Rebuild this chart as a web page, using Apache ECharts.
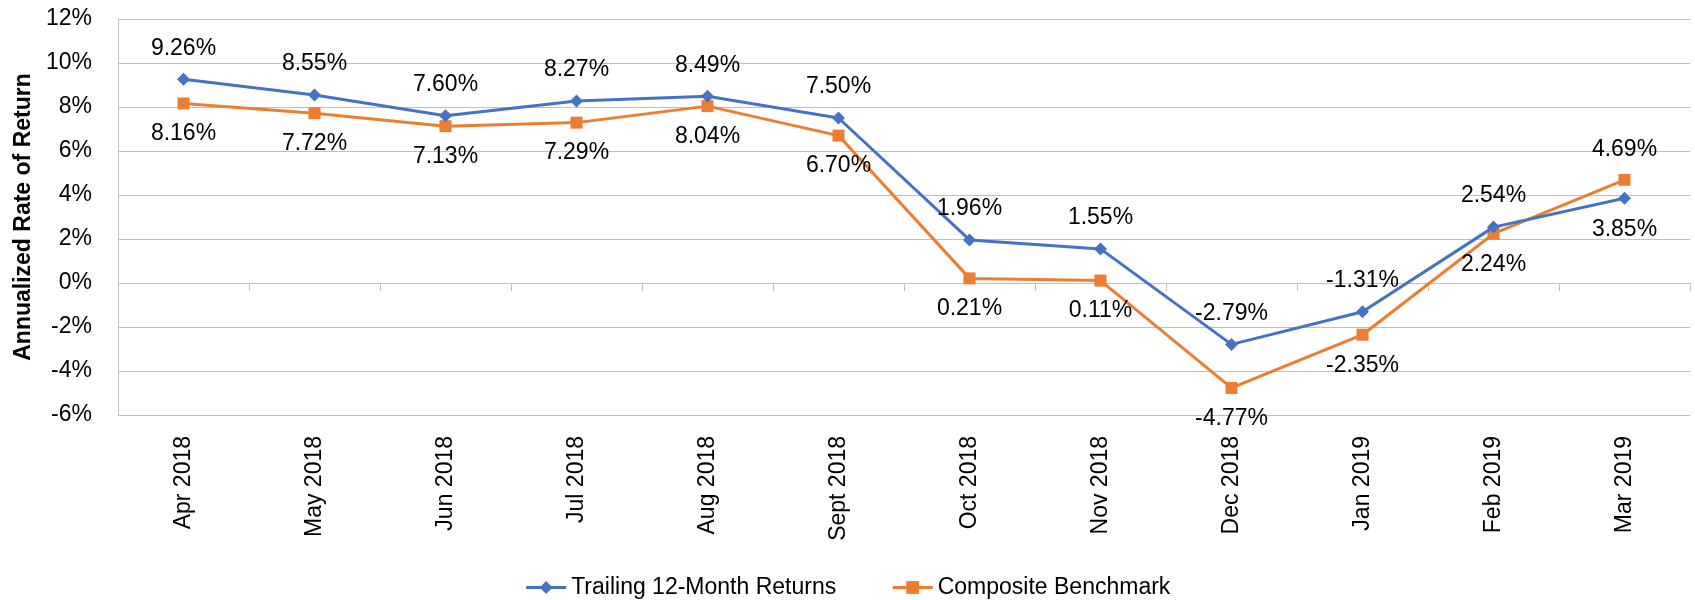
<!DOCTYPE html>
<html>
<head>
<meta charset="utf-8">
<script src="https://cdn.jsdelivr.net/npm/echarts@6/dist/echarts.min.js"></script>
<style>html,body{margin:0;padding:0;background:#fff}#c{width:1695px;height:600px}</style>
</head>
<body>
<div id="c"></div>
<script>
const categories = ['Apr 2018','May 2018','Jun 2018','Jul 2018','Aug 2018','Sept 2018','Oct 2018','Nov 2018','Dec 2018','Jan 2019','Feb 2019','Mar 2019'];
const trailingReturns = [9.26, 8.55, 7.60, 8.27, 8.49, 7.50, 1.96, 1.55, -2.79, -1.31, 2.54, 3.85];
const benchmark = [8.16, 7.72, 7.13, 7.29, 8.04, 6.70, 0.21, 0.11, -4.77, -2.35, 2.24, 4.69];
// label side for each point: true = above
const trailingAbove = [true,true,true,true,true,true,true,true,true,true,true,false];
const benchmarkAbove = [false,false,false,false,false,false,false,false,false,false,false,true];
const yTicks = {min: -6, max: 12, interval: 2};

const FONT = 'Liberation Sans';
const FS = 23;
const grey = '#bfbfbf';
function mk(vals, above){
  return vals.map((v,i)=>({value:v,label:{position: above[i]?'top':'bottom'}}));
}
const labelStyle = {show:true, fontFamily:FONT, fontSize:FS, color:'#000', distance:13,
  formatter: p => p.value.toFixed(2)+'%'};

const chart = echarts.init(document.getElementById('c'), null, {renderer:'canvas'});
chart.setOption({
  animation:false,
  textStyle:{fontFamily:FONT},
  grid:{left:118, right:5, top:19, bottom:185, containLabel:false},
  legend:{
    top: 571, left:'center', itemWidth:40, itemHeight:16, itemGap:55,
    lineStyle:{width:3},
    textStyle:{fontFamily:FONT, fontSize:FS, color:'#000'},
    data:['Trailing 12-Month Returns','Composite Benchmark']
  },
  xAxis:[
    {type:'category', data:categories, position:'bottom', axisLine:{show:false, onZero:false},
     axisTick:{show:false},
     axisLabel:{rotate:90, margin:21, fontFamily:FONT, fontSize:FS, color:'#000'}},
    {type:'category', data:categories, position:'top',
     axisLine:{show:true, onZero:true, lineStyle:{color:grey, width:1}},
     axisTick:{show:true, inside:true, length:8, lineStyle:{color:grey}},
     axisLabel:{show:false}}
  ],
  yAxis:{
    type:'value', min:yTicks.min, max:yTicks.max, interval:yTicks.interval,
    name:'Annualized Rate of Return', nameLocation:'middle', nameGap:78,
    nameTextStyle:{fontFamily:FONT, fontSize:FS, fontWeight:'bold', color:'#000'},
    axisLine:{show:true, lineStyle:{color:grey}},
    axisTick:{show:false},
    axisLabel:{formatter:'{value}%', margin:26, fontFamily:FONT, fontSize:FS, color:'#000'},
    splitLine:{lineStyle:{color:grey, width:1}}
  },
  series:[
    {name:'Trailing 12-Month Returns', type:'line', xAxisIndex:0, data:mk(trailingReturns, trailingAbove),
     symbol:'diamond', symbolSize:13, color:'#4472C4', lineStyle:{width:3, color:'#4472C4'},
     itemStyle:{color:'#4472C4'}, label:labelStyle, z:3},
    {name:'Composite Benchmark', type:'line', xAxisIndex:0, data:mk(benchmark, benchmarkAbove),
     symbol:'rect', symbolSize:12, color:'#ED7D31', lineStyle:{width:3, color:'#ED7D31'},
     itemStyle:{color:'#ED7D31'}, label:labelStyle, z:2}
  ]
});
</script>
</body>
</html>
